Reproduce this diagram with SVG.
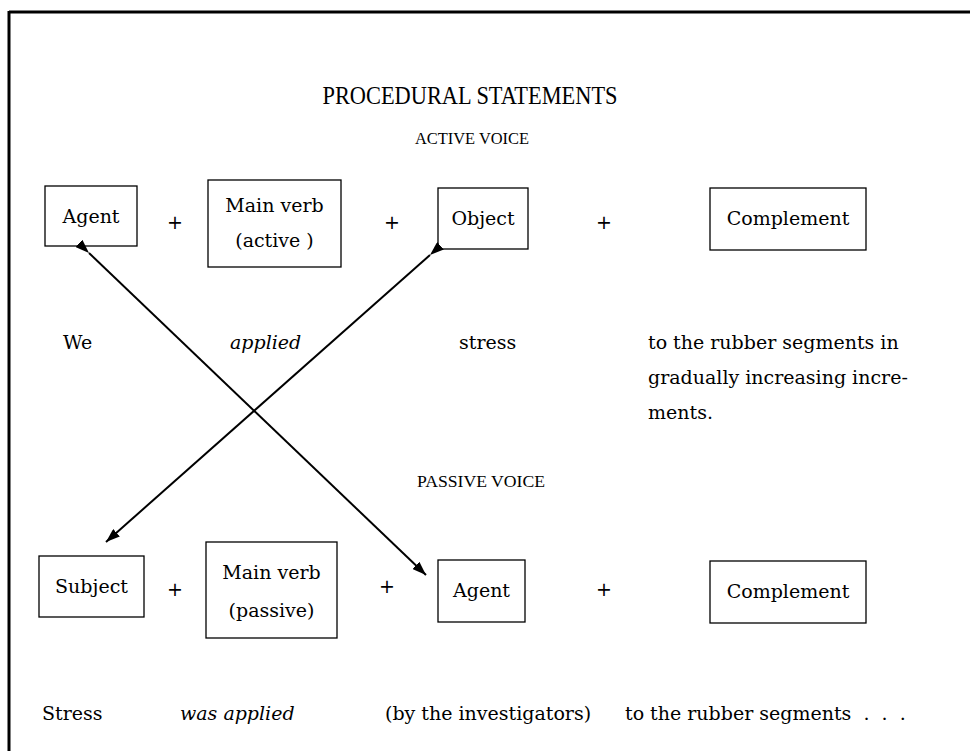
<svg xmlns="http://www.w3.org/2000/svg" width="970" height="751" viewBox="0 0 970 751">
<style>
.box{fill:#fff;stroke:#000;stroke-width:1.3}
.t{font-family:"DejaVu Serif","Liberation Serif",serif;font-size:19px;fill:#000}
.c{text-anchor:middle}
.i{font-style:italic}
.h{font-family:"Liberation Serif",serif;fill:#000;text-anchor:middle}
.plus{font-family:"DejaVu Sans",sans-serif;font-size:19px;text-anchor:middle;fill:#000}
.ln{stroke:#000;stroke-width:2;fill:none}
</style>
<defs>
<marker id="ah" viewBox="0 0 14 10" refX="14" refY="5" markerWidth="14" markerHeight="10" markerUnits="userSpaceOnUse" orient="auto">
<path d="M0,0 L14,5 L0,10 Z" fill="#000"/>
</marker>
</defs>
<rect width="970" height="751" fill="#fff"/>
<g id="frame">
<line x1="9" y1="12" x2="970" y2="12" stroke="#000" stroke-width="3"/>
<line x1="9" y1="11" x2="9" y2="751" stroke="#000" stroke-width="3"/>
</g>
<g id="titles">
<text class="h" x="470" y="104" font-size="25" textLength="295" lengthAdjust="spacingAndGlyphs">PROCEDURAL STATEMENTS</text>
<text class="h" x="472" y="144" font-size="17" textLength="114" lengthAdjust="spacingAndGlyphs">ACTIVE VOICE</text>
<text class="h" x="481" y="487" font-size="17" textLength="128" lengthAdjust="spacingAndGlyphs">PASSIVE VOICE</text>
</g>
<g id="active-agent"><rect class="box" x="45" y="186" width="92" height="60"/><text class="t c" x="91" y="223">Agent</text></g>
<g id="active-verb"><rect class="box" x="208" y="180" width="133" height="87"/><text class="t c" x="274.5" y="212">Main verb</text><text class="t c" x="274.5" y="247">(active )</text></g>
<g id="active-object"><rect class="box" x="438" y="188" width="90" height="61"/><text class="t c" x="483" y="225">Object</text></g>
<g id="active-complement"><rect class="box" x="710" y="188" width="156" height="62"/><text class="t c" x="788" y="225">Complement</text></g>
<g id="active-plus"><text class="plus" x="175" y="229">+</text><text class="plus" x="392" y="229">+</text><text class="plus" x="604" y="229">+</text></g>
<g id="active-example">
<text class="t" x="63" y="349">We</text>
<text class="t i" x="230" y="349">applied</text>
<text class="t" x="459" y="349">stress</text>
<text class="t" x="648" y="349">to the rubber segments in</text>
<text class="t" x="648" y="384">gradually increasing incre-</text>
<text class="t" x="648" y="419">ments.</text>
</g>
<g id="passive-subject"><rect class="box" x="39" y="556" width="105" height="61"/><text class="t c" x="91.5" y="593">Subject</text></g>
<g id="passive-verb"><rect class="box" x="206" y="542" width="131" height="96"/><text class="t c" x="271.5" y="579">Main verb</text><text class="t c" x="271.5" y="617">(passive)</text></g>
<g id="passive-agent"><rect class="box" x="438" y="560" width="87" height="62"/><text class="t c" x="481.5" y="597">Agent</text></g>
<g id="passive-complement"><rect class="box" x="710" y="561" width="156" height="62"/><text class="t c" x="788" y="598">Complement</text></g>
<g id="passive-plus"><text class="plus" x="175" y="596">+</text><text class="plus" x="387" y="593">+</text><text class="plus" x="604" y="596">+</text></g>
<g id="passive-example">
<text class="t" x="42" y="720">Stress</text>
<text class="t i" x="180" y="720">was applied</text>
<text class="t" x="385" y="720">(by the investigators)</text>
<text class="t" x="625" y="720" xml:space="preserve">to the rubber segments  .  .  .</text>
</g>
<g id="connectors">
<line class="ln" x1="89" y1="253" x2="426" y2="575" marker-start="url(#ah)" marker-end="url(#ah)"/>
<line class="ln" x1="430" y1="255" x2="106" y2="542" marker-start="url(#ah)" marker-end="url(#ah)"/>
</g>
</svg>
